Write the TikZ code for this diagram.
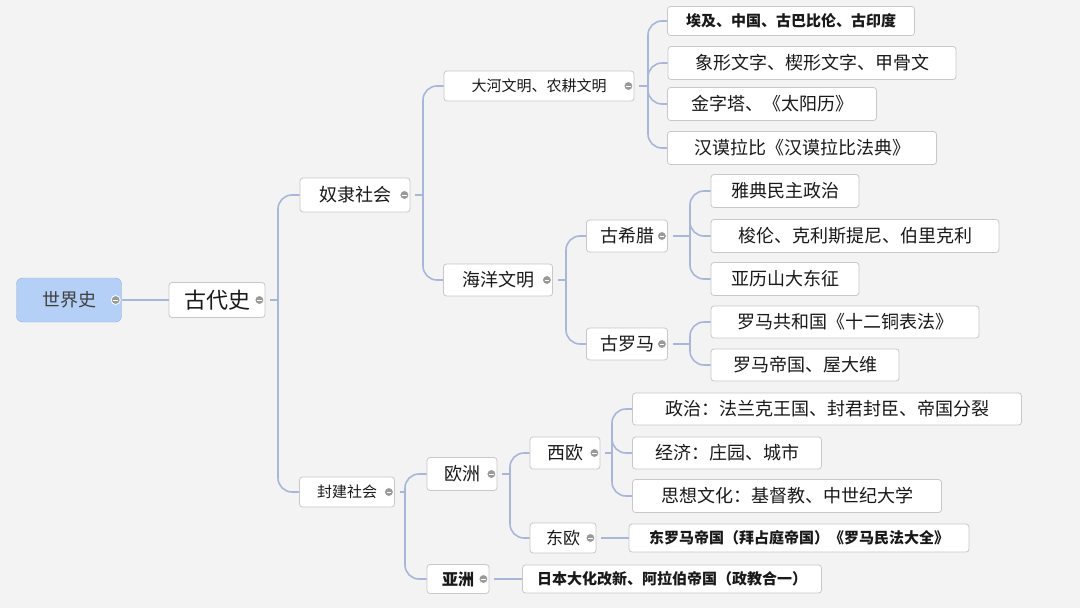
\documentclass[tikz,border=0pt]{standalone}
\usepackage{fontspec}
\setmainfont{Noto Sans CJK SC}
\definecolor{bg}{HTML}{F3F3F3}
\definecolor{ln}{HTML}{A8B6DA}
\definecolor{bd}{HTML}{C8C8C8}
\definecolor{rootc}{HTML}{B5D0F7}
\definecolor{rootb}{HTML}{8FB0E6}
\begin{document}
\begin{tikzpicture}[x=1pt,y=-1pt,
  nd/.style={draw=bd,fill=white,rounded corners=3pt,inner sep=0pt,line width=0.8pt,font=\fontsize{18}{18}\selectfont,text=black!90},
  sm/.style={nd,font=\fontsize{15}{15}\selectfont},
  bd/.style={nd,font=\fontsize{15}{15}\selectfont\bfseries},
  cn/.style={draw=ln,line width=1.6pt,rounded corners=14pt},
  mn/.style={circle,fill=black!40,draw=white,line width=0.8pt,inner sep=0pt,minimum size=9pt,path picture={\draw[white,line width=0.8pt] ([xshift=-2.4pt]path picture bounding box.center)--([xshift=2.4pt]path picture bounding box.center);}}]
\fill[bg] (0,0) rectangle (1080,608);
\useasboundingbox (0,0) rectangle (1080,608);
\newcommand\N[6]{\node[#1,minimum width=#4,minimum height=#5] (#2) at (#3) {#6};}
\node[draw=rootb,fill=rootc,rounded corners=6pt,minimum width=105,minimum height=44,font=\fontsize{18}{18}\selectfont,text=black!75] (r) at (69,300) {世界史};
\N{nd}{g}{217,300}{96}{35}{\fontsize{22}{22}\selectfont 古代史}
\N{nd}{ns}{355,195}{110}{34}{奴隶社会}
\N{sm}{fj}{347,492}{95}{30}{封建社会}
\N{sm}{dh}{539,86}{190}{30}{大河文明、农耕文明}
\N{nd}{hy}{498,280}{109}{32}{海洋文明}
\N{bd}{a1}{791,21}{247}{29}{埃及、中国、古巴比伦、古印度}
\N{nd}{a2}{812,63}{288}{33}{象形文字、楔形文字、甲骨文}
\N{nd}{a3}{772,104}{209}{33}{金字塔、《太阳历》}
\N{nd}{a4}{802,148}{269}{33}{汉谟拉比《汉谟拉比法典》}
\N{nd}{gx}{627,236}{81}{32}{古希腊}
\N{nd}{gl}{627,344}{81}{32}{古罗马}
\N{nd}{b1}{785,191}{148}{33}{雅典民主政治}
\N{nd}{b2}{855,236}{288}{33}{梭伦、克利斯提尼、伯里克利}
\N{nd}{b3}{785,279}{148}{33}{亚历山大东征}
\N{nd}{c1}{845,322}{268}{32}{罗马共和国《十二铜表法》}
\N{nd}{c2}{805,365}{188}{32}{罗马帝国、屋大维}
\N{nd}{oz}{462,474}{70}{33}{欧洲}
\N{bd}{yz}{458,579}{62}{29}{\fontsize{16}{16}\selectfont\bfseries 亚洲}
\N{nd}{xo}{565,453}{70}{32}{西欧}
\N{sm}{do}{563,538}{66}{30}{\fontsize{17}{17}\selectfont 东欧}
\N{nd}{d1}{827,409}{389}{32}{政治：法兰克王国、封君封臣、帝国分裂}
\N{nd}{d2}{727,453}{189}{32}{经济：庄园、城市}
\N{nd}{d3}{787,496}{309}{33}{思想文化：基督教、中世纪大学}
\N{bd}{e1}{799,538}{340}{28}{东罗马帝国（拜占庭帝国）《罗马民法大全》}
\N{bd}{f1}{672,579}{299}{28}{日本大化改新、阿拉伯帝国（政教合一）}
\draw[cn] (r.east) -- (g.west);
\draw[cn] ([xshift=5pt]g.east) -- (278,300);
\draw[cn] (278,300) |- (ns.west);
\draw[cn] (278,300) |- (fj.west);
\draw[cn] ([xshift=5pt]ns.east) -- (423,195);
\draw[cn] (423,195) |- (dh.west); \draw[cn] (423,195) |- (hy.west);
\draw[cn] ([xshift=5pt]dh.east) -- (648,86);
\foreach \c in {a1,a2,a3,a4} \draw[cn] (648,86) |- (\c.west);
\draw[cn] ([xshift=5pt]hy.east) -- (566,280);
\draw[cn] (566,280) |- (gx.west); \draw[cn] (566,280) |- (gl.west);
\draw[cn] ([xshift=5pt]gx.east) -- (690,236);
\foreach \c in {b1,b2,b3} \draw[cn] (690,236) |- (\c.west);
\draw[cn] ([xshift=5pt]gl.east) -- (690,344);
\foreach \c in {c1,c2} \draw[cn] (690,344) |- (\c.west);
\draw[cn] ([xshift=5pt]fj.east) -- (405,492);
\draw[cn] (405,492) |- (oz.west); \draw[cn] (405,492) |- (yz.west);
\draw[cn] ([xshift=5pt]oz.east) -- (510,474);
\draw[cn] (510,474) |- (xo.west); \draw[cn] (510,474) |- (do.west);
\draw[cn] ([xshift=5pt]xo.east) -- (612,453);
\foreach \c in {d1,d2,d3} \draw[cn] (612,453) |- (\c.west);
\draw[cn] ([xshift=5pt]do.east) -- (e1.west);
\draw[cn] ([xshift=5pt]yz.east) -- (f1.west);
\foreach \p in {r,g,ns,fj,dh,hy,gx,gl,oz,yz,xo,do} \node[mn] at ([xshift=-6pt]\p.east) {};
\end{tikzpicture}
\end{document}
